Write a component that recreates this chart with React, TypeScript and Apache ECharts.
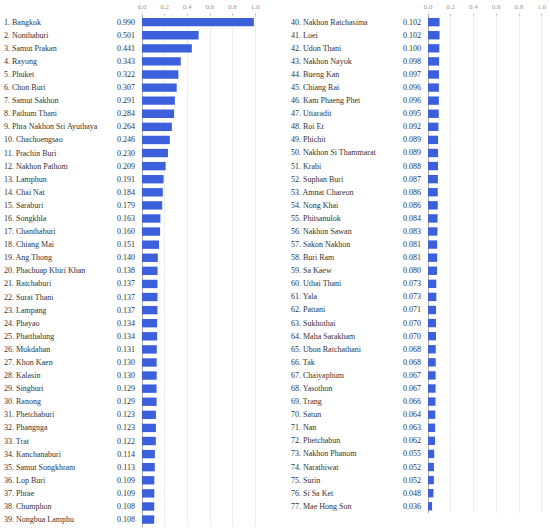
import React, { useEffect, useRef } from "react";
import * as echarts from "echarts";

const namesLeft = [
  "Bangkok", "Nonthaburi", "Samut Prakan", "Rayong", "Phuket", "Chon Buri", "Samut Sakhon",
  "Pathum Thani", "Phra Nakhon Sri Ayuthaya", "Chachoengsao", "Prachin Buri", "Nakhon Pathom",
  "Lamphun", "Chai Nat", "Saraburi", "Songkhla", "Chanthaburi", "Chiang Mai", "Ang Thong",
  "Phachuap Khiri Khan", "Ratchaburi", "Surat Thani", "Lampang", "Phayao", "Phatthalung",
  "Mukdahan", "Khon Kaen", "Kalasin", "Singburi", "Ranong", "Phetchaburi", "Phangnga", "Trat",
  "Kanchanaburi", "Samut Songkhram", "Lop Buri", "Phrae", "Chumphon", "Nongbua Lamphu",
];
const valuesLeft = [
  0.99, 0.501, 0.441, 0.343, 0.322, 0.307, 0.291, 0.284, 0.264, 0.246, 0.23, 0.209, 0.191,
  0.184, 0.179, 0.163, 0.16, 0.151, 0.14, 0.138, 0.137, 0.137, 0.137, 0.134, 0.134, 0.131,
  0.13, 0.13, 0.129, 0.129, 0.123, 0.123, 0.122, 0.114, 0.113, 0.109, 0.109, 0.108, 0.108,
];
const namesRight = [
  "Nakhon Ratchasima", "Loei", "Udon Thani", "Nakhon Nayok", "Bueng Kan", "Chiang Rai",
  "Kam Phaeng Phet", "Uttaradit", "Roi Et", "Phichit", "Nakhon Si Thammarat", "Krabi",
  "Suphan Buri", "Amnat Chareon", "Nong Khai", "Phitsanulok", "Nakhon Sawan", "Sakon Nakhon",
  "Buri Ram", "Sa Kaew", "Uthai Thani", "Yala", "Pattani", "Sukhothai", "Maha Sarakham",
  "Ubon Ratchathani", "Tak", "Chaiyaphum", "Yasothon", "Trang", "Satun", "Nan", "Phetchabun",
  "Nakhon Phanom", "Narathiwat", "Surin", "Si Sa Ket", "Mae Hong Son",
];
const valuesRight = [
  0.102, 0.102, 0.1, 0.098, 0.097, 0.096, 0.096, 0.095, 0.092, 0.089, 0.089, 0.088, 0.087,
  0.086, 0.086, 0.084, 0.083, 0.081, 0.081, 0.08, 0.073, 0.073, 0.071, 0.07, 0.07, 0.068,
  0.068, 0.067, 0.067, 0.066, 0.064, 0.063, 0.062, 0.055, 0.052, 0.052, 0.048, 0.036,
];
const xTicks = [0, 0.2, 0.4, 0.6, 0.8, 1.0];

const FONT = "'Liberation Serif', 'Times New Roman', serif";
const TEXT = "#333";
const BAR = "#3c5fdc";

export default function App() {
  const ref = useRef<HTMLDivElement>(null);
  useEffect(() => {
    if (!ref.current) return;
    const chart = echarts.init(ref.current, null, { renderer: "svg" });
    const labelsLeft = namesLeft.map((n, i) => `${i + 1}. ${n}`);
    const labelsRight = namesRight.map((n, i) => `${i + 1 + namesLeft.length}. ${n}`);
    const fmt = (v: number) => v.toFixed(3);

    const xAxisFor = (gridIndex: number) => ({
      type: "value",
      gridIndex,
      position: "top",
      min: xTicks[0],
      max: xTicks[xTicks.length - 1],
      interval: 0.2,
      axisLine: { show: false },
      axisTick: { show: true, length: 2, lineStyle: { color: "#bbb" } },
      axisLabel: {
        fontSize: 7,
        color: "#999",
        fontFamily: FONT,
        margin: 5,
        formatter: (v: number) => v.toFixed(1),
      },
      splitLine: { show: true, lineStyle: { color: "#eee", width: 1 } },
    });

    const nameAxis = (gridIndex: number, data: string[], margin: number) => ({
      type: "category",
      gridIndex,
      position: "left",
      inverse: true,
      data,
      axisLine: { show: true, lineStyle: { color: "#aaa", width: 1 } },
      axisTick: { show: false },
      axisLabel: {
        align: "left",
        margin,
        fontSize: 8,
        color: TEXT,
        fontFamily: FONT,
        interval: 0,
      },
    });
    const valueAxis = (gridIndex: number, data: string[]) => ({
      type: "category",
      gridIndex,
      position: "left",
      inverse: true,
      data,
      axisLine: { show: false },
      axisTick: { show: false },
      splitLine: { show: false },
      axisLabel: {
        align: "right",
        margin: 7,
        fontSize: 8,
        color: TEXT,
        fontFamily: FONT,
        interval: 0,
      },
    });

    chart.setOption({
      animation: false,
      grid: [
        { left: 142, top: 15.6, width: 113, height: 510.5 },
        { left: 428, top: 15.6, width: 113.5, height: 497.2 },
      ],
      xAxis: [xAxisFor(0), xAxisFor(1)],
      yAxis: [
        nameAxis(0, labelsLeft, 138),
        valueAxis(0, valuesLeft.map(fmt)),
        nameAxis(1, labelsRight, 137),
        valueAxis(1, valuesRight.map(fmt)),
      ],
      series: [
        {
          type: "bar",
          xAxisIndex: 0,
          yAxisIndex: 0,
          data: valuesLeft,
          barCategoryGap: "36%",
          itemStyle: { color: BAR },
        },
        {
          type: "bar",
          xAxisIndex: 1,
          yAxisIndex: 2,
          data: valuesRight,
          barCategoryGap: "36%",
          itemStyle: { color: BAR },
        },
      ],
    });
    return () => chart.dispose();
  }, []);
  return (
    <div
      ref={ref}
      style={{ position: "fixed", left: 0, top: 0, width: 550, height: 530, background: "#fff" }}
    />
  );
}
